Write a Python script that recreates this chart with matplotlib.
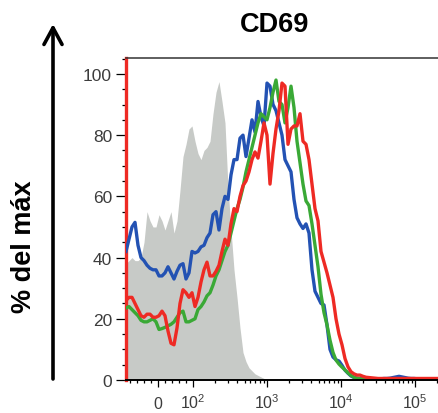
import numpy as np
import matplotlib
matplotlib.use("Agg")
import matplotlib.pyplot as plt
from matplotlib.scale import SymmetricalLogTransform
from matplotlib.ticker import FixedLocator, NullFormatter

plt.rcParams['font.family'] = ['Liberation Sans', 'DejaVu Sans']
plt.rcParams['mathtext.fontset'] = 'custom'
plt.rcParams['mathtext.rm'] = 'Liberation Sans'
plt.rcParams['mathtext.it'] = 'Liberation Sans:italic'
plt.rcParams['mathtext.bf'] = 'Liberation Sans:bold'

# axis range (fluorescence) and histogram values (% of max) per channel
x_min, x_max = -91, 2.05e5

grey = [38, 39, 40, 39, 39, 40, 45, 55, 52, 50, 50, 54, 52, 49, 52, 55, 48, 52, 62, 73,
        77, 82, 83, 78, 74, 72, 75, 76, 78, 87, 94, 97.5, 91, 84, 63, 49, 36, 27, 17, 9,
        6, 4, 3, 2, 1.5, 1, 0.5, 0, 0, 0, 0, 0, 0, 0, 0, 0, 0, 0, 0, 0,
        0, 0, 0, 0, 0, 0, 0, 0, 0, 0, 0, 0, 0, 0, 0, 0, 0, 0, 0, 0,
        0, 0, 0, 0, 0, 0, 0, 0, 0, 0, 0, 0, 0, 0, 0, 0, 0, 0, 0, 0,
        0, 0, 0, 0, 0]

blue = [42, 46, 50, 51.5, 44, 40, 39, 37.5, 36.5, 36, 36, 34, 34, 35, 37, 35, 33, 35.5, 37.5, 38,
        33, 35, 42, 41.5, 42, 43.5, 44, 46.5, 48, 54, 55, 49, 56, 60, 59, 67, 72, 72, 79, 80,
        73, 79, 85, 81, 91, 86, 83, 97, 96, 90, 88, 84, 80, 72, 70, 68, 59, 53, 51, 49.5,
        51, 48, 36, 29, 27, 25, 24.5, 18, 10, 7.5, 6.6, 6.2, 4.8, 3.2, 2.2, 1.3, 0.8, 0.6, 0.5, 0.5,
        0.4, 0.4, 0.4, 0.4, 0.4, 0.4, 0.5, 0.5, 0.6, 0.8, 1.0, 1.2, 1.0, 0.8, 0.6, 0.5, 0.5, 0.4, 0.4, 0.4,
        0.4, 0.4, 0.4, 0.4, 0.4]

green = [23.5, 24, 23, 22, 21, 19.5, 19, 19, 19.5, 20, 19, 16.5, 16.8, 17.2, 17.7, 18.2, 19, 20.5, 22, 22.5,
         19, 19, 19.5, 20, 23, 24, 25.5, 27.5, 28.5, 31, 34, 36, 39, 42, 44, 48, 52, 56, 59, 63,
         68, 72, 76, 80, 84, 87, 86, 85, 89, 94, 98, 91, 90, 84, 89, 96, 89, 78, 71, 64,
         58.5, 57, 51, 44, 37, 28, 22, 18, 13, 9, 6.5, 5.2, 4.2, 3.3, 2.3, 1.5, 0.9, 0.5, 0.4, 0.3,
         0.3, 0.3, 0.3, 0.3, 0.3, 0.3, 0.3, 0.3, 0.3, 0.3, 0.3, 0.3, 0.3, 0.3, 0.3, 0.3, 0.3, 0.3, 0.3, 0.3,
         0.3, 0.3, 0.3, 0.3, 0.3]

red = [26, 27, 27, 25, 23, 21, 20.5, 21.5, 21.5, 20.5, 20.5, 21, 22.5, 21, 16, 12, 11.5, 17, 25, 29.5,
       28.5, 27, 28.5, 24, 27, 32, 36, 38.5, 34, 34, 35.5, 37.5, 42, 46, 44, 51, 56, 55, 60, 63.5,
       65, 68, 72, 74.5, 72.5, 78, 84, 80, 64, 74, 82, 88, 97, 96, 77, 82, 83, 83, 87, 78,
       77, 72, 64, 56, 52, 42, 38.5, 35, 31, 27, 20, 15, 11.5, 7, 4.3, 2.7, 2, 1.6, 1.6, 1.2,
       0.9, 0.8, 0.7, 0.6, 0.5, 0.5, 0.5, 0.5, 0.5, 0.5, 0.5, 0.5, 0.5, 0.5, 0.5, 0.5, 0.5, 0.5, 0.5, 0.5,
       0.5, 0.5, 0.5, 0.5, 0.5]

xtick_vals = [0, 1e2, 1e3, 1e4, 1e5]
xtick_labels = ['0', r'$10^2$', r'$10^3$', r'$10^4$', r'$10^5$']

# channels evenly spaced on the biexponential-like display axis
linthresh, linscale = 100, 0.4257
tf = SymmetricalLogTransform(10, linthresh, linscale)
lo, hi = tf.transform_non_affine(np.array([x_min, x_max], dtype=float))
channels = tf.inverted().transform_non_affine(np.linspace(lo, hi, len(grey)))

fig = plt.figure(figsize=(4.38, 4.14), dpi=100)
ax = fig.add_axes([126 / 438, 33 / 414, 312 / 438, 322 / 414])
ax.set_xscale('symlog', base=10, linthresh=linthresh, linscale=linscale)

ax.fill_between(channels, grey, color='#c7cac7', lw=0, zorder=1)
ax.plot(channels, blue, color='#2352b3', lw=2.4, zorder=3)
ax.plot(channels, green, color='#3aa936', lw=2.4, zorder=4)
ax.plot(channels, red, color='#ee2a24', lw=2.4, zorder=5)

ax.set_xlim(x_min, x_max)
ax.set_ylim(0, 105.2)

ax.set_xticks(xtick_vals)
ax.set_xticklabels(xtick_labels)
minor = [-80, -60, -40, -20, 20, 40, 60, 80]
for e in (2, 3, 4):
    minor += [k * 10 ** e for k in range(2, 10)]
minor += [2e5]
ax.xaxis.set_minor_locator(FixedLocator(minor))
ax.xaxis.set_minor_formatter(NullFormatter())

ax.set_yticks(range(0, 101, 20))
ax.set_yticks(range(0, 106, 5), minor=True)

ax.tick_params(axis='y', which='major', length=7.5, width=0.9, pad=2.5,
               labelsize=12.5, labelcolor='#3c3c3c', color='black')
ax.tick_params(axis='y', which='minor', length=3, width=0.9, color='black')
ax.tick_params(axis='x', which='major', length=5, width=0.9, pad=15.5,
               labelsize=11.5, labelcolor='#3c3c3c', color='black')
ax.tick_params(axis='x', which='minor', length=2.5, width=0.9, color='black')
for lbl in ax.get_xticklabels():
    lbl.set_verticalalignment('baseline')

ax.spines['left'].set_color('#ee2a24')
ax.spines['left'].set_linewidth(2.4)
ax.spines['right'].set_visible(False)
ax.spines['top'].set_linewidth(1.1)
ax.spines['top'].set_color('#333333')
ax.spines['bottom'].set_linewidth(1.4)
ax.spines['bottom'].set_zorder(6)

fig.text(275 / 438, 1 - 25 / 414, 'CD69', ha='center', va='center',
         fontsize=19.5, fontweight='bold')
fig.text(24 / 438, 1 - 247 / 414, '% del máx', ha='center', va='center',
         rotation=90, fontsize=19.5, fontweight='bold')
ax.annotate('', xy=(53 / 438, 1 - 25 / 414), xytext=(53 / 438, 1 - 380 / 414),
            xycoords='figure fraction', textcoords='figure fraction',
            arrowprops=dict(arrowstyle='->,head_length=1.2,head_width=0.65',
                            lw=2.6, color='black', shrinkA=0, shrinkB=0))

fig.savefig('out.png', dpi=100)
